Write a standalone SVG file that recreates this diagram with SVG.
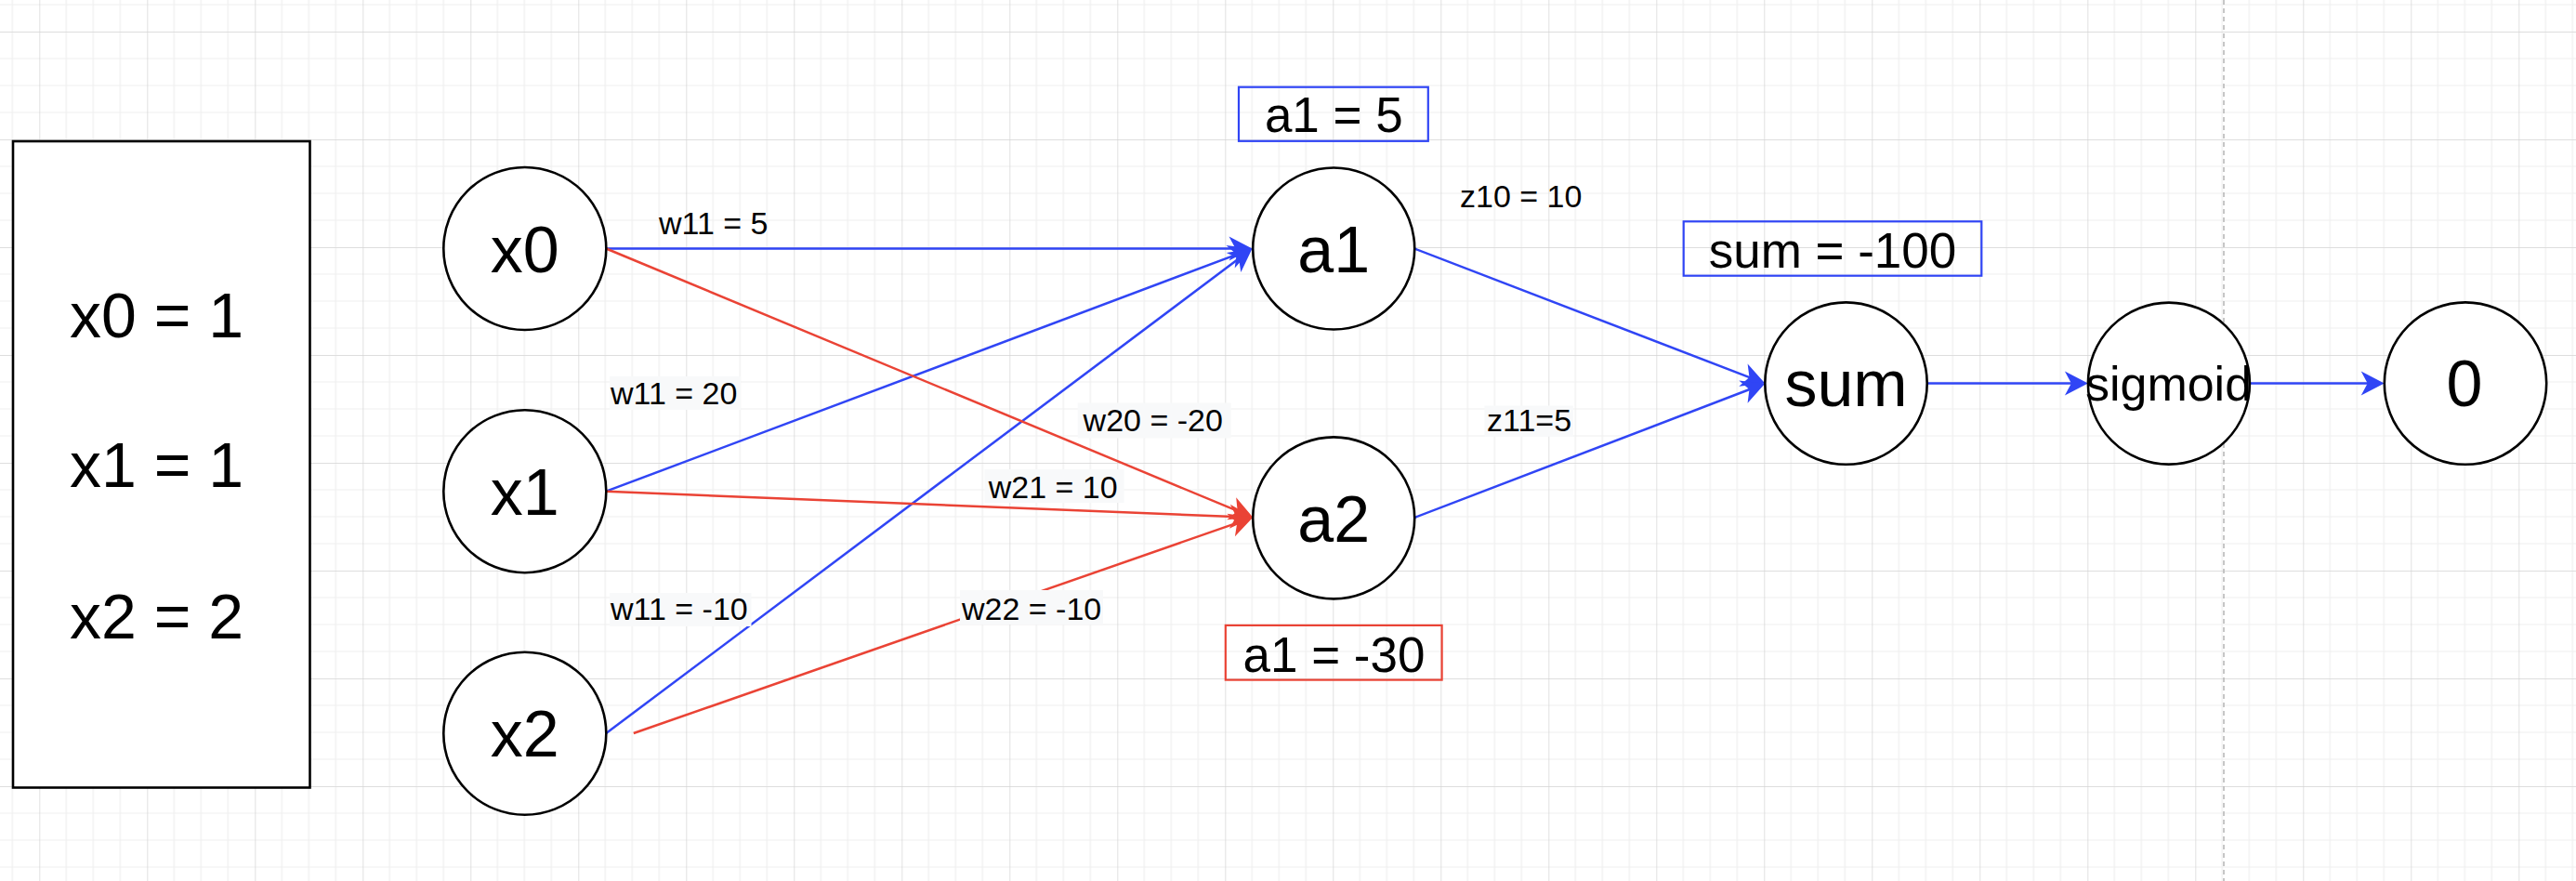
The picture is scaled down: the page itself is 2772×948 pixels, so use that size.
<svg xmlns="http://www.w3.org/2000/svg" width="2772" height="948" viewBox="0 0 2772 948">
<style>
text{font-family:"Liberation Sans",Arial,Helvetica,sans-serif;fill:#000}
.node{fill:#fff;stroke:#000;stroke-width:2.6}
.big{font-size:70px;text-anchor:middle}
.box{font-size:68px}
.val{font-size:53px;text-anchor:middle}
.lbl{font-size:34px}
.lblbg{fill:#f8f9fa;stroke:none}
.blue{stroke:#3045f5;stroke-width:2.5;fill:none;marker-end:url(#arrB)}
.red{stroke:#ea4335;stroke-width:2.5;fill:none;marker-end:url(#arrR)}
</style>
<defs>
<pattern id="grid" patternUnits="userSpaceOnUse" x="42.3" y="34" width="116" height="116">
<path d="M29 0V116M58 0V116M87 0V116M0 29H116M0 58H116M0 87H116" stroke="#efefef" stroke-width="1.2" fill="none"/>
<path d="M0 0V116M0 0H116" stroke="#d4d4d4" stroke-width="1.4" fill="none"/>
</pattern>
<marker id="arrB" markerUnits="userSpaceOnUse" viewBox="-26 -14 27 28" markerWidth="27" markerHeight="28" refX="-8" refY="0" orient="auto" overflow="visible">
<path d="M0,0 L-25,-13 L-18,0 L-25,13 Z" fill="#3045f5"/>
</marker>
<marker id="arrR" markerUnits="userSpaceOnUse" viewBox="-26 -14 27 28" markerWidth="27" markerHeight="28" refX="-8" refY="0" orient="auto" overflow="visible">
<path d="M0,0 L-25,-13 L-18,0 L-25,13 Z" fill="#ea4335"/>
</marker>
</defs>
<rect width="2772" height="948" fill="#fff"/>
<rect width="2772" height="948" fill="url(#grid)"/>
<line x1="2393" y1="0" x2="2393" y2="948" stroke="#b8b8b8" stroke-width="1.6" stroke-dasharray="5 4"/>

<g id="connectors">
<path class="blue" d="M652.3,267.5 L1339.5,267.5"/>
<path class="blue" d="M652.3,528.7 L1340.0,270.3"/>
<path class="blue" d="M652.3,789 L1341.1,272.3"/>
<path class="red" d="M652.3,267.5 L1340.9,553.7"/>
<path class="red" d="M652.3,528.7 L1340.3,556.5"/>
<path class="red" d="M681.8,789 L1340.7,559.4"/>
<path class="blue" d="M1522.1,267.5 L1891.8,409.7"/>
<path class="blue" d="M1522.1,557 L1891.8,415.5"/>
<path class="blue" d="M2073.7,412.6 L2238.9,412.6"/>
<path class="blue" d="M2420.8,412.6 L2557.7,412.6"/>
</g>

<g id="labels">
<text class="lbl" x="709" y="252">w11 = 5</text>
<rect class="lblbg" x="656" y="405" width="141" height="36"/>
<text class="lbl" x="657" y="435.3">w11 = 20</text>
<rect class="lblbg" x="656" y="638" width="152.5" height="36"/>
<text class="lbl" x="657" y="666.9">w11 = -10</text>
<rect class="lblbg" x="1159.7" y="433.5" width="165" height="38"/>
<text class="lbl" x="1165.6" y="463.7">w20 = -20</text>
<rect class="lblbg" x="1059.5" y="505" width="150" height="36"/>
<text class="lbl" x="1063.7" y="536.3">w21 = 10</text>
<rect class="lblbg" x="1033" y="635" width="154" height="37"/>
<text class="lbl" x="1035" y="666.5">w22 = -10</text>
<text class="lbl" x="1571" y="222.5">z10 = 10</text>
<rect class="lblbg" x="1597.5" y="436.5" width="95.5" height="33.3"/>
<text class="lbl" x="1600" y="463.7">z11=5</text>
</g>

<g id="inputs-box">
<rect x="14" y="152" width="319.5" height="695.5" fill="#fff" stroke="#000" stroke-width="2.6"/>
<text class="box" x="75" y="362.8">x0 = 1</text>
<text class="box" x="75" y="524.2">x1 = 1</text>
<text class="box" x="75" y="687.4">x2 = 2</text>
</g>

<g id="node-x0"><ellipse class="node" cx="564.8" cy="267.5" rx="87.5" ry="87.5"/><text class="big" x="564.8" y="293.2">x0</text></g>
<g id="node-x1"><ellipse class="node" cx="564.8" cy="528.7" rx="87.5" ry="87.5"/><text class="big" x="564.8" y="554.4">x1</text></g>
<g id="node-x2"><ellipse class="node" cx="564.8" cy="789.3" rx="87.5" ry="87.5"/><text class="big" x="564.8" y="814.4">x2</text></g>
<g id="node-a1"><ellipse class="node" cx="1435.2" cy="267.5" rx="87" ry="87"/><text class="big" x="1435.2" y="293.2">a1</text></g>
<g id="node-a2"><ellipse class="node" cx="1435.2" cy="557.4" rx="87" ry="87"/><text class="big" x="1435.2" y="583">a2</text></g>
<g id="node-sum"><ellipse class="node" cx="1986.5" cy="412.6" rx="87.2" ry="87.2"/><text class="big" x="1986.5" y="436.5">sum</text></g>
<g id="node-sigmoid"><ellipse class="node" cx="2333.9" cy="412.6" rx="87" ry="87"/><text x="2333.5" y="431" font-size="52" text-anchor="middle">sigmoid</text></g>
<g id="node-out"><ellipse class="node" cx="2653" cy="412.6" rx="87.2" ry="87.2"/><text class="big" x="2652" y="436.5">0</text></g>

<g id="val-a1"><rect x="1333" y="93.7" width="203.8" height="58.1" fill="none" stroke="#3045f5" stroke-width="2.2"/><text class="val" x="1435.3" y="142.1">a1 = 5</text></g>
<g id="val-a2"><rect x="1318.8" y="672.9" width="232.8" height="58.7" fill="none" stroke="#ea4335" stroke-width="2.2"/><text class="val" x="1435.5" y="722.5">a1 = -30</text></g>
<g id="val-sum"><rect x="1811.7" y="238.3" width="320.6" height="58.4" fill="none" stroke="#3045f5" stroke-width="2.2"/><text class="val" x="1972" y="288.3">sum = -100</text></g>
</svg>
